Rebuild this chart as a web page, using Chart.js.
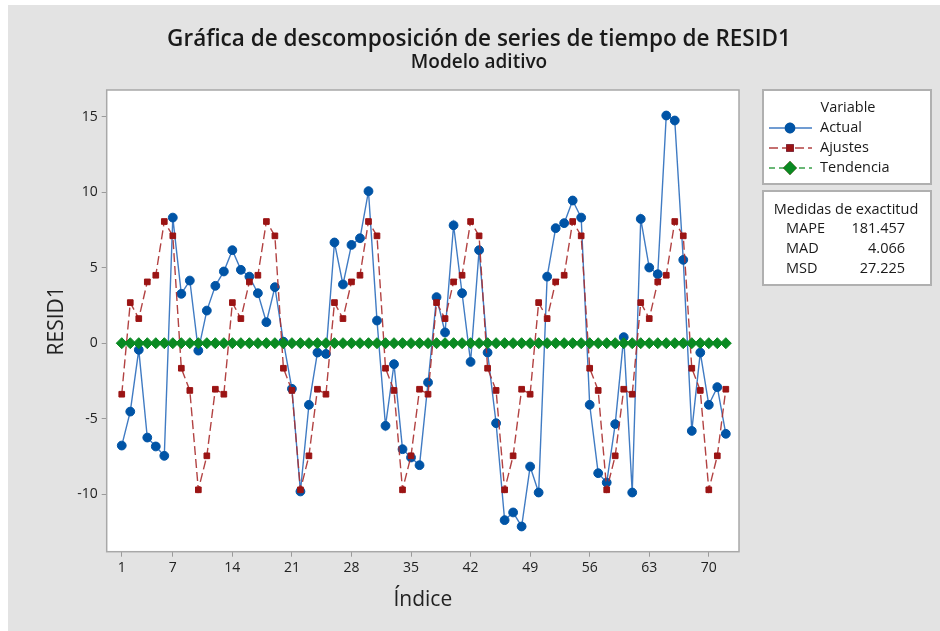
<!DOCTYPE html>
<html>
<head>
<meta charset="utf-8">
<script src="https://cdn.jsdelivr.net/npm/chart.js@4.4.1/dist/chart.umd.min.js"></script>
<style>
  html, body { margin: 0; padding: 0; background: #ffffff; }
  #wrap { width: 940px; height: 631px; }
</style>
</head>
<body>
<div id="wrap"><canvas id="descomp" width="940" height="631"></canvas></div>
<script>
// values
const indices = [1,2,3,4,5,6,7,8,9,10,11,12,13,14,15,16,17,18,19,20,21,22,23,24,25,26,27,28,29,30,31,32,33,34,35,36,
  37,38,39,40,41,42,43,44,45,46,47,48,49,50,51,52,53,54,55,56,57,58,59,60,61,62,63,64,65,66,67,68,69,70,71,72];
const actual = [-6.78, -4.53, -0.44, -6.25, -6.84, -7.46, 8.32, 3.27, 4.15, -0.49,
  2.16, 3.80, 4.75, 6.16, 4.86, 4.41, 3.31, 1.39, 3.71, 0.10,
  -3.02, -9.82, -4.08, -0.62, -0.71, 6.67, 3.89, 6.51, 6.95, 10.07,
  1.50, -5.47, -1.39, -7.02, -7.57, -8.08, -2.60, 3.05, 0.71, 7.81,
  3.31, -1.24, 6.16, -0.62, -5.30, -11.72, -11.21, -12.14, -8.17, -9.89,
  4.41, 7.62, 7.95, 9.45, 8.32, -4.08, -8.61, -9.23, -5.36, 0.40,
  -9.89, 8.23, 5.01, 4.57, 15.08, 14.75, 5.52, -5.81, -0.62, -4.08, -2.91, -6.00];
const ajustes = [-3.38, 2.69, 1.63, 4.06, 4.50, 8.06, 7.11, -1.66, -3.13, -9.71, -7.46, -3.05,
  -3.38, 2.69, 1.63, 4.06, 4.50, 8.06, 7.11, -1.66, -3.13, -9.71, -7.46, -3.05,
  -3.38, 2.69, 1.63, 4.06, 4.50, 8.06, 7.11, -1.66, -3.13, -9.71, -7.46, -3.05,
  -3.38, 2.69, 1.63, 4.06, 4.50, 8.06, 7.11, -1.66, -3.13, -9.71, -7.46, -3.05,
  -3.38, 2.69, 1.63, 4.06, 4.50, 8.06, 7.11, -1.66, -3.13, -9.71, -7.46, -3.05,
  -3.38, 2.69, 1.63, 4.06, 4.50, 8.06, 7.11, -1.66, -3.13, -9.71, -7.46, -3.05];
const tendencia = [0,0,0,0,0,0,0,0,0,0,0,0,0,0,0,0,0,0,0,0,0,0,0,0,0,0,0,0,0,0,0,0,0,0,0,0,
  0,0,0,0,0,0,0,0,0,0,0,0,0,0,0,0,0,0,0,0,0,0,0,0,0,0,0,0,0,0,0,0,0,0,0,0];
const xTicks = [1, 7, 14, 21, 28, 35, 42, 49, 56, 63, 70];
const yTicks = [-10, -5, 0, 5, 10, 15];
const medidas = [["MAPE", "181.457"], ["MAD", "4.066"], ["MSD", "27.225"]];

const FONT = "'Open Sans', 'Noto Sans', sans-serif";
const BLUE = "#0054a6", RED = "#9b1414", GREEN = "#0a8a22";

const toXY = (vals) => vals.map((v, i) => ({ x: indices[i], y: v }));

// background, plot frame, title and the two boxes on the right
const minitabLook = {
  id: "minitabLook",
  beforeDraw(chart) {
    const { ctx, chartArea: a } = chart;
    ctx.save();
    ctx.fillStyle = "#ffffff";
    ctx.fillRect(0, 0, chart.width, chart.height);
    ctx.fillStyle = "#e3e3e3";
    ctx.fillRect(8, 5, chart.width - 8, chart.height - 5);
    ctx.fillStyle = "#ffffff";
    ctx.fillRect(a.left, a.top, a.right - a.left, a.bottom - a.top);
    ctx.restore();
  },
  afterDraw(chart) {
    const { ctx, chartArea: a } = chart;
    ctx.save();
    ctx.strokeStyle = "#a8a8a8";
    ctx.lineWidth = 1.5;
    ctx.strokeRect(a.left, a.top, a.right - a.left, a.bottom - a.top);

    ctx.fillStyle = "#1a1a1a";
    ctx.textAlign = "center";
    ctx.textBaseline = "middle";
    ctx.font = "600 22.5px " + FONT;
    ctx.fillText("Gráfica de descomposición de series de tiempo de RESID1", 479, 40);
    ctx.font = "600 19px " + FONT;
    ctx.fillText("Modelo aditivo", 479, 63);

    // legend box
    ctx.fillStyle = "#ffffff";
    ctx.strokeStyle = "#b0b0b0";
    ctx.lineWidth = 2;
    ctx.fillRect(763, 90, 168, 94);
    ctx.strokeRect(763, 90, 168, 94);
    ctx.fillRect(763, 191, 168, 94);
    ctx.strokeRect(763, 191, 168, 94);

    ctx.fillStyle = "#1a1a1a";
    ctx.font = "14.5px " + FONT;
    ctx.fillText("Variable", 848, 108);
    const rows = [128, 148, 168];
    chart.data.datasets.forEach((ds, i) => {
      const y = rows[i];
      ctx.save();
      ctx.strokeStyle = ds.borderColor;
      ctx.lineWidth = 1.5;
      ctx.setLineDash(ds.borderDash || []);
      ctx.beginPath();
      ctx.moveTo(769, y);
      ctx.lineTo(812, y);
      ctx.stroke();
      ctx.restore();
      Chart.helpers.drawPoint(ctx, {
        pointStyle: ds.pointStyle, radius: ds.pointRadius, rotation: 0,
        borderWidth: 1
      }, 790, y);
      ctx.fillStyle = ds.pointBackgroundColor;
      ctx.strokeStyle = ds.pointBorderColor;
      ctx.fill();
      ctx.stroke();
      ctx.fillStyle = "#1a1a1a";
      ctx.textAlign = "left";
      ctx.fillText(ds.label, 820, y);
    });

    ctx.textAlign = "center";
    ctx.fillText("Medidas de exactitud", 846, 210);
    medidas.forEach((m, i) => {
      const y = 229 + i * 20;
      ctx.textAlign = "left";
      ctx.fillText(m[0], 786, y);
      ctx.textAlign = "right";
      ctx.fillText(m[1], 905, y);
    });
    ctx.restore();
  }
};

new Chart(document.getElementById("descomp"), {
  type: "line",
  data: {
    datasets: [
      {
        label: "Actual",
        data: toXY(actual),
        borderColor: "rgba(30,100,185,0.85)",
        borderWidth: 1.4,
        pointStyle: "circle",
        pointRadius: 4.4,
        pointBackgroundColor: BLUE,
        pointBorderColor: BLUE,
        pointBorderWidth: 1,
        order: 3,
      },
      {
        label: "Ajustes",
        data: toXY(ajustes),
        borderColor: "rgba(170,45,45,0.9)",
        borderWidth: 1.4,
        borderDash: [9, 4],
        pointStyle: "rect",
        pointRadius: 4,
        pointBackgroundColor: RED,
        pointBorderColor: RED,
        pointBorderWidth: 1,
        order: 2,
      },
      {
        label: "Tendencia",
        data: toXY(tendencia),
        borderColor: "#3aa04a",
        borderWidth: 1.4,
        borderDash: [6, 4],
        pointStyle: "rectRot",
        pointRadius: 5.5,
        pointBackgroundColor: GREEN,
        pointBorderColor: GREEN,
        pointBorderWidth: 1,
        order: 1,
      },
    ],
  },
  options: {
    responsive: false,
    animation: false,
    layout: { padding: { top: 90, right: 201, left: 0, bottom: 0 } },
    plugins: {
      legend: { display: false },
      tooltip: { enabled: false },
    },
    scales: {
      x: {
        type: "linear",
        min: -0.77,
        max: 73.55,
        afterBuildTicks: (scale) => {
          scale.ticks = xTicks.map((v) => ({ value: v }));
        },
        afterFit: (scale) => {
          scale.height = 79.3;
        },
        grid: { drawOnChartArea: false, drawTicks: true, tickLength: 5, tickColor: "#9a9a9a" },
        border: { display: false },
        ticks: { color: "#222", font: { family: FONT, size: 14 }, padding: 3, maxRotation: 0, autoSkip: false },
        title: {
          display: true,
          text: "Índice",
          color: "#222",
          font: { family: FONT, size: 21 },
          padding: { top: 18, bottom: 18 },
        },
      },
      y: {
        type: "linear",
        min: -13.81,
        max: 16.77,
        afterBuildTicks: (scale) => {
          scale.ticks = yTicks.map((v) => ({ value: v }));
        },
        afterFit: (scale) => {
          scale.width = 106.7;
        },
        grid: { drawOnChartArea: false, drawTicks: true, tickLength: 5, tickColor: "#9a9a9a" },
        border: { display: false },
        ticks: { color: "#222", font: { family: FONT, size: 14 }, padding: 4 },
        title: {
          display: true,
          text: "RESID1",
          color: "#222",
          font: { family: FONT, size: 21 },
          padding: { top: 44, bottom: 44 },
        },
      },
    },
  },
  plugins: [minitabLook],
});
</script>
</body>
</html>
